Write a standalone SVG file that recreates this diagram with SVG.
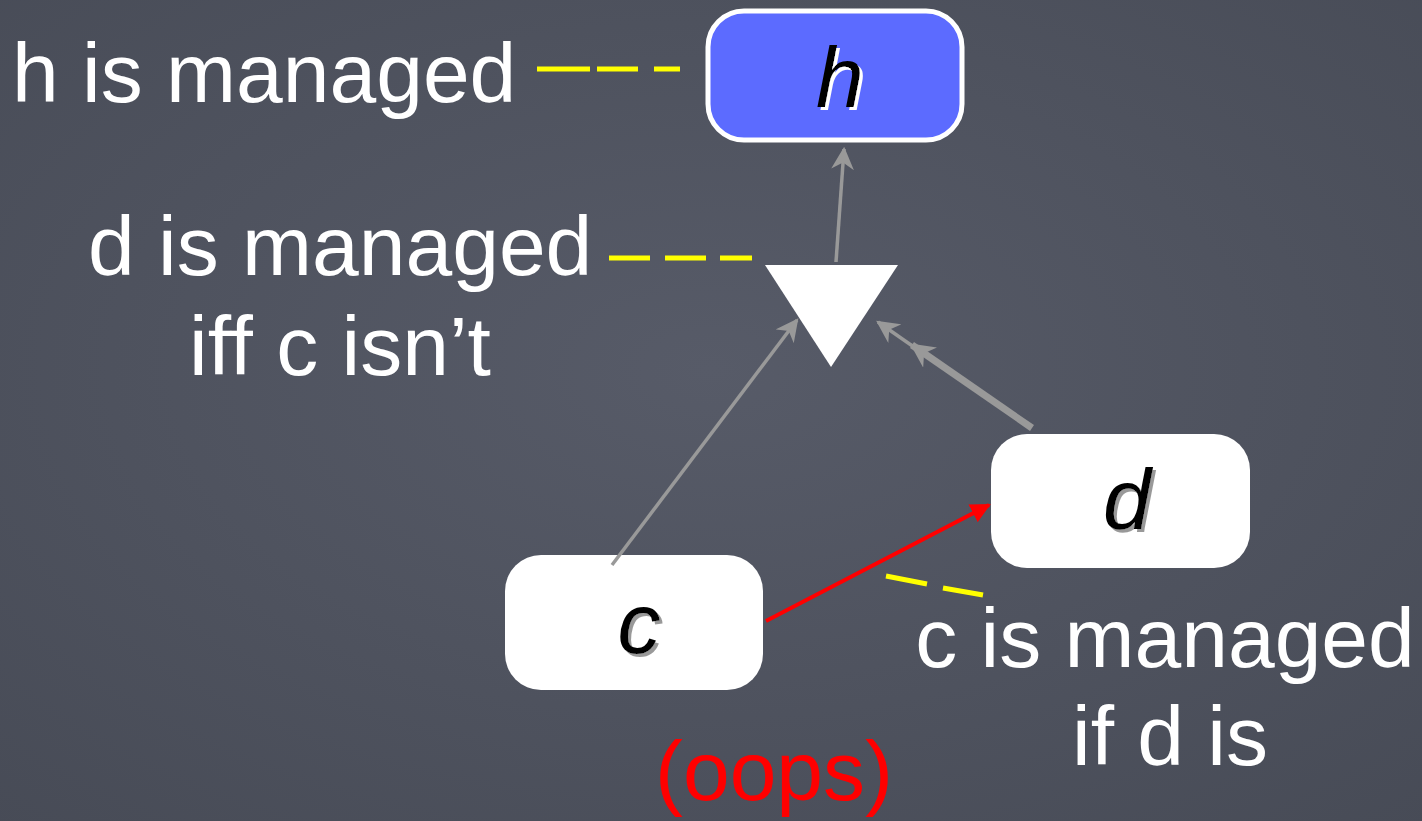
<svg xmlns="http://www.w3.org/2000/svg" width="1422" height="821" viewBox="0 0 1422 821">
<defs>
<radialGradient id="bg" cx="0.5" cy="0.45" r="0.8">
<stop offset="0" stop-color="#575b68"/>
<stop offset="1" stop-color="#464a55"/>
</radialGradient>
<filter id="shw" x="-20%" y="-20%" width="150%" height="150%"><feDropShadow dx="3" dy="3" stdDeviation="0.4" flood-color="#ffffff" flood-opacity="1"/></filter>
<filter id="shg" x="-20%" y="-20%" width="150%" height="150%"><feDropShadow dx="3" dy="3" stdDeviation="0.6" flood-color="#999999" flood-opacity="1"/></filter>
<marker id="ag" viewBox="0 0 10 10" refX="9" refY="5" markerWidth="6.5" markerHeight="6.5" markerUnits="strokeWidth" orient="auto"><path d="M0,0 L10,5 L0,10 L3,5 Z" fill="#999"/></marker>
<marker id="ag2" viewBox="0 0 10 10" refX="9" refY="5" markerWidth="3.5" markerHeight="3.5" markerUnits="strokeWidth" orient="auto"><path d="M0,0 L10,5 L0,10 L3,5 Z" fill="#999"/></marker>
<marker id="ar" viewBox="0 0 10 10" refX="9" refY="5" markerWidth="5" markerHeight="5" markerUnits="strokeWidth" orient="auto"><path d="M0,0 L10,5 L0,10 Z" fill="#ff0000"/></marker>
</defs>
<style>
.lbl{font-family:"Liberation Sans",Arial,sans-serif;font-size:84px;fill:#ffffff}
.nl{font-family:"Liberation Sans",Arial,sans-serif;font-size:86px;font-style:italic;text-anchor:middle;fill:#000000}
.node{fill:#ffffff;stroke:none}
.dash{stroke:#ffff00;stroke-width:5;fill:none}
.conn{stroke:#999999;stroke-width:3.5;fill:none}
</style>
<rect width="1422" height="821" fill="url(#bg)"/>
<g id="node-h">
<rect x="708" y="11" width="254" height="129" rx="36" fill="#5c6bff" stroke="#ffffff" stroke-width="5"/>
<text class="nl" x="840" y="107" filter="url(#shw)">h</text>
</g>
<g id="node-and">
<polygon points="765,265 898,265 831,367" fill="#ffffff"/>
</g>
<g id="node-c">
<rect class="node" x="505" y="555" width="258" height="135" rx="36"/>
<text class="nl" x="639" y="653" filter="url(#shg)">c</text>
</g>
<g id="node-d">
<rect class="node" x="991" y="434" width="259" height="134" rx="36"/>
<text class="nl" x="1127" y="529" filter="url(#shg)">d</text>
</g>
<g id="connectors">
<line class="conn" x1="836" y1="262" x2="844" y2="149" marker-end="url(#ag)"/>
<line class="conn" x1="612" y1="565" x2="797" y2="320" marker-end="url(#ag)"/>
<line class="conn" x1="1030" y1="428" x2="878" y2="322" marker-end="url(#ag)"/>
<line stroke="#999" stroke-width="7" x1="1032" y1="428" x2="912" y2="345" marker-end="url(#ag2)"/>
<line stroke="#ff0000" stroke-width="4" x1="766" y1="621" x2="989" y2="505" marker-end="url(#ar)"/>
<path class="dash" d="M537,69 H590 M597,69 H638 M654,69 H680"/>
<path class="dash" d="M609,258 H650 M665,258 H706 M720,258 H752"/>
<path class="dash" d="M886,576 L927,584 M943,588 L983,595"/>
</g>
<g id="labels">
<text class="lbl" x="12" y="102">h is managed</text>
<text class="lbl" x="88" y="275">d is managed</text>
<text class="lbl" x="340" y="375" text-anchor="middle">iff c isn’t</text>
<text class="lbl" x="1165" y="667" text-anchor="middle">c is managed</text>
<text class="lbl" x="1170" y="765" text-anchor="middle">if d is</text>
<text class="lbl" x="774" y="800" text-anchor="middle" style="fill:#ff0000">(oops)</text>
</g>
</svg>
